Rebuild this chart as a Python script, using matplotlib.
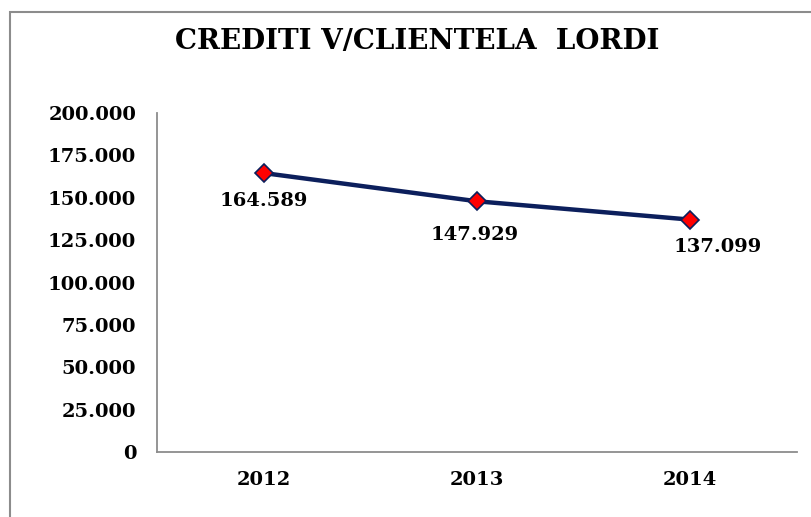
import matplotlib.pyplot as plt
from matplotlib.patches import Rectangle

# data
years = ["2012", "2013", "2014"]
crediti = [164589, 147929, 137099]
labels = ["164.589", "147.929", "137.099"]
label_offsets = [(0, -20), (-2, -24), (20, -20)]  # points
yticks = [0, 25000, 50000, 75000, 100000, 125000, 150000, 175000, 200000]
ytick_labels = ["0", "25.000", "50.000", "75.000", "100.000",
                "125.000", "150.000", "175.000", "200.000"]

plt.rcParams["font.family"] = ["DejaVu Serif"]
plt.rcParams["font.weight"] = "bold"

fig = plt.figure(figsize=(8.12, 5.17), dpi=100)
ax = fig.add_axes([0.1933, 0.1257, 0.7882, 0.6557])

# outer chart frame (only left/top visible in the picture)
fig.patches.append(Rectangle((10 / 812, -0.1), 1.2, 1.1 - 12 / 517,
                             transform=fig.transFigure, fill=False,
                             edgecolor="#8c8c8c", lw=1.5))

x = list(range(len(years)))
ax.plot(x, crediti, color="#0c1f5c", lw=3.2, marker="D", markersize=9,
        markerfacecolor="#ff0000", markeredgecolor="#0c1f5c",
        markeredgewidth=1.2, zorder=3)

for xi, v, lab, off in zip(x, crediti, labels, label_offsets):
    ax.annotate(lab, (xi, v), xytext=off, textcoords="offset points",
                ha="center", va="center", fontsize=14, fontweight="bold")

ax.set_xlim(-0.5, 2.5)
ax.set_ylim(0, 200000)
ax.set_xticks(x)
ax.set_xticklabels(years, fontsize=14, fontweight="bold")
ax.set_yticks(yticks)
ax.set_yticklabels(ytick_labels, fontsize=14, fontweight="bold")
ax.tick_params(axis="both", length=0)
ax.tick_params(axis="y", pad=15)
ax.tick_params(axis="x", pad=14)

for s in ["top", "right"]:
    ax.spines[s].set_visible(False)
for s in ["left", "bottom"]:
    ax.spines[s].set_color("#8c8c8c")
    ax.spines[s].set_linewidth(1.3)

fig.text(0.514, 0.92, "CREDITI V/CLIENTELA  LORDI", ha="center", va="center",
         fontsize=20, fontweight="bold")

fig.savefig("out.png", dpi=100)
